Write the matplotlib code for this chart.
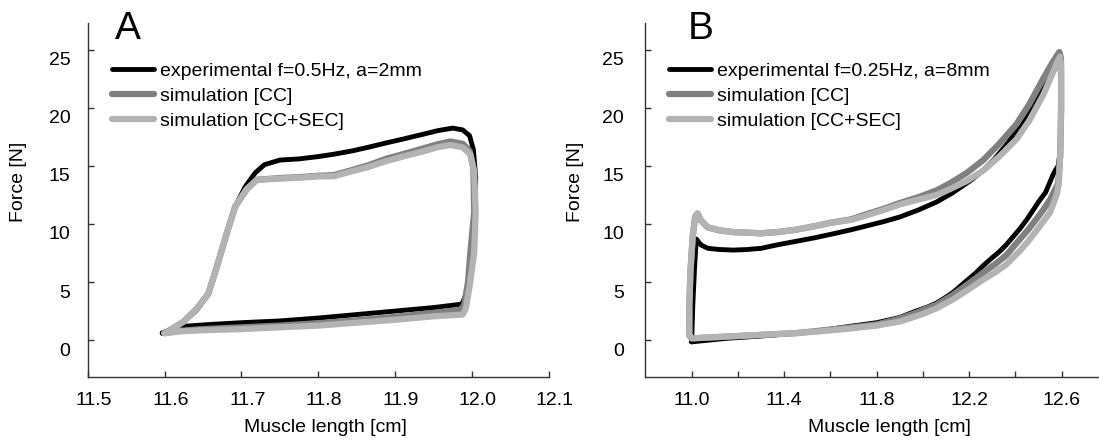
import matplotlib
matplotlib.use("Agg")
import matplotlib.pyplot as plt
from matplotlib.transforms import ScaledTranslation

plt.rcParams['font.family'] = ['Liberation Sans', 'DejaVu Sans']

# ---------------- Panel A data (length [cm], force [N]) ----------------
a_exp_len = [11.597, 11.607, 11.625, 11.642, 11.657, 11.668, 11.681, 11.692, 11.705, 11.718,
             11.730, 11.750, 11.775, 11.800, 11.820, 11.845, 11.865, 11.890, 11.910, 11.935,
             11.957, 11.975, 11.988, 11.997, 12.002, 12.005, 12.004, 12.000, 11.993, 11.987,
             11.950, 11.900, 11.850, 11.800, 11.750, 11.700, 11.660, 11.628, 11.610, 11.597]
a_exp_force = [0.6, 0.9, 1.6, 2.6, 4.0, 6.3, 9.2, 11.5, 13.2, 14.4,
               15.1, 15.5, 15.6, 15.8, 16.0, 16.3, 16.6, 17.0, 17.3, 17.7,
               18.05, 18.25, 18.1, 17.6, 16.4, 14.0, 10.0, 6.5, 4.0, 3.1,
               2.8, 2.5, 2.2, 1.9, 1.65, 1.5, 1.35, 1.2, 0.9, 0.6]

a_cc_len = [11.600, 11.607, 11.625, 11.642, 11.657, 11.668, 11.681, 11.692, 11.707, 11.720,
            11.750, 11.780, 11.800, 11.820, 11.842, 11.865, 11.888, 11.910, 11.934, 11.955,
            11.972, 11.988, 11.997, 12.002, 12.003, 11.998, 11.995, 11.990, 11.985,
            11.950, 11.900, 11.850, 11.800, 11.750, 11.700, 11.650, 11.620, 11.600]
a_cc_force = [0.6, 0.85, 1.6, 2.7, 4.0, 6.3, 9.2, 11.5, 13.0, 13.8,
              13.95, 14.05, 14.15, 14.2, 14.6, 15.05, 15.6, 16.0, 16.45, 16.85,
              17.1, 16.9, 16.3, 14.8, 11.0, 7.5, 5.0, 3.0, 2.6,
              2.35, 2.0, 1.7, 1.45, 1.25, 1.1, 0.95, 0.8, 0.6]

a_sec_len = [11.600, 11.607, 11.625, 11.642, 11.657, 11.668, 11.681, 11.692, 11.707, 11.720,
             11.750, 11.780, 11.800, 11.820, 11.842, 11.865, 11.888, 11.910, 11.934, 11.955,
             11.972, 11.988, 11.998, 12.003, 12.005, 12.003, 11.997, 11.992, 11.988,
             11.950, 11.900, 11.850, 11.800, 11.750, 11.700, 11.650, 11.620, 11.600]
a_sec_force = [0.6, 0.85, 1.6, 2.7, 4.0, 6.3, 9.2, 11.5, 13.0, 13.8,
               13.9, 14.0, 14.1, 14.1, 14.5, 14.9, 15.4, 15.8, 16.2, 16.6,
               16.8, 16.6, 16.0, 14.5, 11.0, 7.5, 4.6, 2.7, 2.2,
               2.05, 1.75, 1.5, 1.25, 1.1, 0.95, 0.85, 0.75, 0.6]

# ---------------- Panel B data ----------------
b_exp_len = [11.000, 11.005, 11.012, 11.020, 11.040, 11.070, 11.120, 11.180, 11.240, 11.300,
             11.370, 11.450, 11.530, 11.600, 11.690, 11.750, 11.830, 11.900, 11.980, 12.060,
             12.130, 12.210, 12.260, 12.310, 12.360, 12.405, 12.450, 12.510, 12.550, 12.585,
             12.595, 12.598, 12.592, 12.585, 12.575, 12.564, 12.545, 12.530, 12.500, 12.477,
             12.450, 12.420, 12.390, 12.360, 12.330, 12.300, 12.260, 12.230, 12.200, 12.165,
             12.130, 12.100, 12.060, 12.020, 11.970, 11.900, 11.800, 11.690, 11.550, 11.450,
             11.300, 11.150, 11.050, 11.000]
b_exp_force = [-0.15, 3.0, 6.0, 8.7, 8.2, 7.9, 7.8, 7.75, 7.8, 7.9,
               8.2, 8.5, 8.8, 9.1, 9.5, 9.8, 10.2, 10.6, 11.2, 11.9,
               12.7, 13.8, 14.6, 15.6, 16.8, 18.0, 19.3, 21.3, 22.6, 23.8,
               24.3, 20.0, 16.0, 15.0, 14.7, 14.3, 13.4, 12.7, 11.9, 11.2,
               10.4, 9.6, 8.9, 8.2, 7.6, 7.1, 6.4, 5.8, 5.3, 4.7,
               4.1, 3.7, 3.2, 2.85, 2.5, 1.95, 1.5, 1.2, 0.8, 0.6,
               0.35, 0.15, -0.05, -0.15]

b_cc_len = [10.990, 10.990, 10.995, 11.005, 11.015, 11.025, 11.040, 11.070, 11.120, 11.180,
            11.300, 11.370, 11.450, 11.530, 11.600, 11.690, 11.750, 11.830, 11.900, 11.980,
            12.060, 12.117, 12.190, 12.261, 12.330, 12.405, 12.460, 12.520, 12.560, 12.590,
            12.597, 12.598, 12.594, 12.585, 12.570, 12.550, 12.520, 12.490, 12.455, 12.420,
            12.390, 12.360, 12.310, 12.260, 12.200, 12.130, 12.060, 12.000, 11.970, 11.900,
            11.800, 11.690, 11.550, 11.450, 11.300, 11.150, 11.050, 11.000, 10.990]
b_cc_force = [0.4, 3.0, 6.0, 9.0, 10.6, 10.9, 10.3, 9.7, 9.45, 9.3,
              9.2, 9.3, 9.5, 9.8, 10.1, 10.4, 10.8, 11.3, 11.8, 12.3,
              12.9, 13.5, 14.4, 15.5, 16.9, 18.6, 20.3, 22.5, 23.9, 24.8,
              24.3, 20.0, 16.0, 13.5, 12.9, 12.1, 11.2, 10.4, 9.5, 8.7,
              8.0, 7.3, 6.5, 5.8, 4.9, 3.9, 3.05, 2.6, 2.35, 1.85,
              1.35, 1.1, 0.8, 0.6, 0.45, 0.3, 0.2, 0.15, 0.4]

b_sec_len = [10.990, 10.990, 10.995, 11.005, 11.015, 11.025, 11.040, 11.070, 11.120, 11.180,
             11.300, 11.370, 11.450, 11.530, 11.600, 11.690, 11.750, 11.830, 11.904, 11.980,
             12.060, 12.117, 12.190, 12.261, 12.330, 12.405, 12.460, 12.520, 12.555, 12.578,
             12.593, 12.598, 12.597, 12.594, 12.588, 12.580, 12.565, 12.550, 12.520, 12.490,
             12.455, 12.420, 12.390, 12.360, 12.310, 12.260, 12.200, 12.130, 12.060, 12.000,
             11.970, 11.900, 11.800, 11.686, 11.550, 11.450, 11.300, 11.150, 11.050, 11.000,
             10.990]
b_sec_force = [0.4, 3.0, 6.0, 9.0, 10.6, 10.9, 10.3, 9.7, 9.45, 9.3,
               9.2, 9.3, 9.5, 9.8, 10.1, 10.35, 10.7, 11.2, 11.7, 12.1,
               12.5, 13.0, 13.7, 14.6, 15.8, 17.3, 18.9, 21.1, 22.7, 23.8,
               24.4, 23.5, 20.0, 16.0, 13.5, 12.6, 11.8, 11.0, 10.2, 9.4,
               8.5, 7.7, 7.1, 6.5, 5.8, 5.2, 4.4, 3.5, 2.75, 2.25,
               2.05, 1.6, 1.25, 1.0, 0.75, 0.6, 0.45, 0.3, 0.2, 0.15,
               0.4]

legend_a = ["experimental f=0.5Hz, a=2mm", "simulation [CC]", "simulation [CC+SEC]"]
legend_b = ["experimental f=0.25Hz, a=8mm", "simulation [CC]", "simulation [CC+SEC]"]

a_xticks = [11.5, 11.6, 11.7, 11.8, 11.9, 12.0, 12.1]
a_xlabels = ["11.5", "11.6", "11.7", "11.8", "11.9", "12.0", "12.1"]
b_xticks = [11.0, 11.2, 11.4, 11.6, 11.8, 12.0, 12.2, 12.4, 12.6]
b_xlabels = ["11.0", "", "11.4", "", "11.8", "", "12.2", "", "12.6"]
yticks = [0, 5, 10, 15, 20, 25]
ylabels = ["0", "5", "10", "15", "20", "25"]

C_EXP = "#000000"
C_CC = "#808080"
C_SEC = "#b3b3b3"
FS = 14

W, H = 1099, 443
fig = plt.figure(figsize=(W / 100, H / 100), dpi=100)

def px_axes(l, r, b, t):
    return fig.add_axes([l / W, 1 - b / H, (r - l) / W, (b - t) / H])

axA = px_axes(87.7, 548.7, 376.7, 23)
axB = px_axes(645.4, 1099, 376.7, 23)


def style(ax, xlim, xticks, xlabels, xshift, ypad, letter, letter_x, xlab_x, ylab_x):
    ax.set_xlim(*xlim)
    ax.set_ylim(-3.15, 27.3)
    for s in ["top", "right"]:
        ax.spines[s].set_visible(False)
    for s in ["left", "bottom"]:
        ax.spines[s].set_color("#333333")
        ax.spines[s].set_linewidth(1.0)
    ax.set_xticks(xticks)
    ax.set_xticklabels(xlabels)
    ax.set_yticks(yticks)
    ax.set_yticklabels(ylabels)
    ax.tick_params(axis="both", direction="in", length=4, width=1, color="#333333",
                   labelsize=FS)
    ax.tick_params(axis="x", pad=11)
    ax.tick_params(axis="y", pad=ypad)
    for lab in ax.get_xticklabels():
        lab.set_transform(lab.get_transform() + ScaledTranslation(xshift / 100, 0, fig.dpi_scale_trans))
    for lab in ax.get_yticklabels():
        lab.set_transform(lab.get_transform() + ScaledTranslation(0, -9 / 100, fig.dpi_scale_trans))
    ax.set_xlabel("Muscle length [cm]", fontsize=FS, va="center")
    ax.xaxis.set_label_coords(xlab_x, -0.145)
    ax.set_ylabel("Force [N]", fontsize=FS, va="center")
    ax.yaxis.set_label_coords(ylab_x, 0.55)
    ax.legend(frameon=False, loc="upper left", bbox_to_anchor=(0.053, 0.889),
              borderpad=0, borderaxespad=0, handlelength=2.16, handletextpad=0.3,
              labelspacing=0.38, fontsize=FS)
    ax.text(letter_x, 1.035, letter, transform=ax.transAxes, fontsize=28, va="top", ha="left")


for ax, data, labels in [
    (axA, [(a_exp_len, a_exp_force), (a_cc_len, a_cc_force), (a_sec_len, a_sec_force)], legend_a),
    (axB, [(b_exp_len, b_exp_force), (b_cc_len, b_cc_force), (b_sec_len, b_sec_force)], legend_b),
]:
    (xe, ye), (xc, yc), (xs, ys) = data
    ax.plot(xe, ye, color=C_EXP, lw=3.5, solid_joinstyle="round", solid_capstyle="round", label=labels[0], zorder=2)
    ax.plot(xc, yc, color=C_CC, lw=4.5, solid_joinstyle="round", solid_capstyle="round", label=labels[1], zorder=3)
    ax.plot(xs, ys, color=C_SEC, lw=4.5, solid_joinstyle="round", solid_capstyle="round", label=labels[2], zorder=4)

style(axA, (11.5, 12.1), a_xticks, a_xlabels, 6, 12.5, "A", 0.058, 0.515, -0.150)
style(axB, (10.8, 12.7615), b_xticks, b_xlabels, 0, 15.5, "B", 0.093, 0.537, -0.155)

fig.savefig("out.png", dpi=100)
